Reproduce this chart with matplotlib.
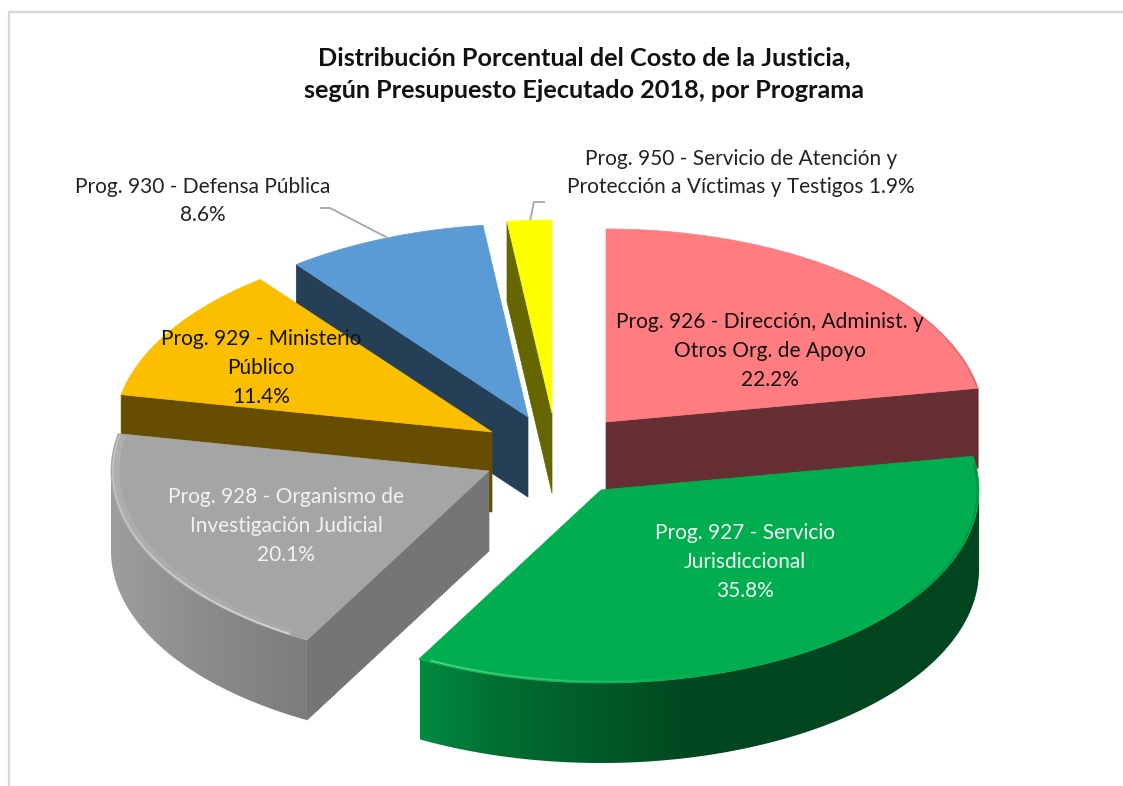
import numpy as np
import matplotlib
matplotlib.use('Agg')
import matplotlib.pyplot as plt
from matplotlib.colors import LinearSegmentedColormap, to_rgba
from matplotlib.collections import LineCollection
from matplotlib.patches import Polygon

plt.rcParams['font.family'] = ['Lato', 'DejaVu Sans']

# data
programas = ['926', '927', '928', '929', '930', '950']
valores = [22.2, 35.8, 20.1, 11.4, 8.6, 1.9]
etiquetas = [
    'Prog. 926 - Dirección, Administ. y\nOtros Org. de Apoyo\n22.2%',
    'Prog. 927 - Servicio\nJurisdiccional\n35.8%',
    'Prog. 928 - Organismo de\nInvestigación Judicial\n20.1%',
    'Prog. 929 - Ministerio\nPúblico\n11.4%',
    'Prog. 930 - Defensa Pública\n8.6%',
    'Prog. 950 - Servicio de Atención y\nProtección a Víctimas y Testigos 1.9%',
]
titulo = 'Distribución Porcentual del Costo de la Justicia,\nsegún Presupuesto Ejecutado 2018, por Programa'

# layout of the exploded pie, in pixels
apex_x = [606, 601, 489, 492, 528, 552]
apex_y = [422, 490, 471, 432, 417, 413]
rx, ry, depth = 378, 193, 80
label_x = [770, 745, 286, 261, 203, 741]
label_y = [351, 562, 526, 368, 201, 173]
label_color = ['#111111', '#f4fbf6', '#f2f2f2', '#111111', '#222222', '#222222']

# styles
top_colors = ['#ff7c80', '#00ae4f', '#a5a5a5', '#fcbf00', '#5b9bd5', '#ffff00']
wall_colors = ['#652f33', '#00471f', '#757575', '#664d00', '#243f56', '#666600']
rim_stops = {
    1: [(420, '#008a40'), (500, '#006e31'), (600, '#005a28'), (690, '#00471f'), (980, '#00451e')],
    2: [(111, '#9e9e9e'), (200, '#8c8c8c'), (307, '#7c7c7c')],
}
draw_order = [5, 4, 0, 3, 2, 1]

fig = plt.figure(figsize=(11.23, 7.86), dpi=100)
ax = fig.add_axes([0, 0, 1, 1])
ax.axis('off')

# frame
ax.plot([9, 9, 1123], [786, 12, 12], color='#d9d9d9', lw=1.6)


def point(i, t, scale=1.0):
    r = np.radians(t)
    return apex_x[i] + scale * rx * np.sin(r), apex_y[i] - scale * ry * np.cos(r)


def edge_light(i, t0, t1, color, a0, a1, inset=0.993, lw=1.5, z=0):
    ts = np.linspace(t0, t1, 60)
    xs, ys = point(i, ts, inset)
    pts = np.column_stack([xs, ys])
    segs = np.stack([pts[:-1], pts[1:]], axis=1)
    rgba = np.array([to_rgba(color)] * len(segs))
    rgba[:, 3] = np.linspace(a0, a1, len(segs))
    ax.add_collection(LineCollection(segs, colors=rgba, linewidths=lw, zorder=z))


limits = np.cumsum([0] + valores) / sum(valores) * 360

for n, i in enumerate(draw_order):
    z = 2 + n
    a, b = limits[i], limits[i + 1]

    # flat walls of the cut
    for t, visible in [(a, 180 < a < 360), (b, 0 < b < 180)]:
        if visible:
            x, y = point(i, t)
            ax.fill([x, apex_x[i], apex_x[i], x],
                    [y, apex_y[i], apex_y[i] + depth, y + depth],
                    color=wall_colors[i], lw=0.5, zorder=z)

    # outer rim, gradient image clipped to the rim shape
    r0, r1 = max(a, 90), min(b, 270)
    if r0 < r1 and i in rim_stops:
        ts = np.linspace(r0, r1, 200)
        xs, ys = point(i, ts)
        shape = np.r_[np.column_stack([xs, ys]),
                      np.column_stack([xs[::-1], ys[::-1] + depth])]
        stops = rim_stops[i]
        lo, hi = stops[0][0], stops[-1][0]
        cmap = LinearSegmentedColormap.from_list(
            'rim', [((p - lo) / (hi - lo), c) for p, c in stops])
        patch = Polygon(shape, closed=True, transform=ax.transData,
                        facecolor='none', edgecolor='none')
        ax.add_patch(patch)
        im = ax.imshow(np.linspace(0, 1, 512).reshape(1, -1), cmap=cmap,
                       extent=(lo, hi, ys.max() + depth + 2, ys.min() - 2),
                       aspect='auto', zorder=z, interpolation='bilinear')
        im.set_clip_path(patch)

    # top face
    ts = np.linspace(a, b, 200)
    xs, ys = point(i, ts)
    ax.fill(np.r_[apex_x[i], xs], np.r_[apex_y[i], ys],
            color=top_colors[i], lw=0.5, zorder=z + 0.1)

# bevel highlights on the rims
edge_light(2, 212, 281, '#ffffff', 0.5, 0.3, inset=0.995, lw=1.2, z=20)
edge_light(2, 212, 281, '#ffffff', 0.06, 0.12, inset=0.985, lw=4, z=20)
edge_light(1, 207, 165, '#6fe09a', 0.8, 0.0, inset=0.992, lw=1.2, z=20)
edge_light(1, 82, 125, '#00602b', 0.35, 0.15, inset=0.996, lw=1.5, z=20)
edge_light(0, 40, 79.5, '#8a4a4c', 0.05, 0.35, inset=0.998, lw=1.2, z=20)

# leader lines
ax.plot([321, 330, 386], [208, 208, 237], color='#a6a6a6', lw=1.3, zorder=1)
ax.plot([544, 534, 530], [202, 202, 221], color='#a6a6a6', lw=1.3, zorder=1)

for i in range(len(valores)):
    ax.text(label_x[i], label_y[i], etiquetas[i], ha='center', va='center',
            fontsize=15, color=label_color[i], linespacing=1.55, zorder=30)

ax.text(584, 74, titulo, ha='center', va='center', fontsize=18.2,
        fontweight='bold', color='#111111', linespacing=1.5, zorder=30)

ax.set_xlim(0, 1123)
ax.set_ylim(786, 0)

fig.savefig('out.png', dpi=100)
